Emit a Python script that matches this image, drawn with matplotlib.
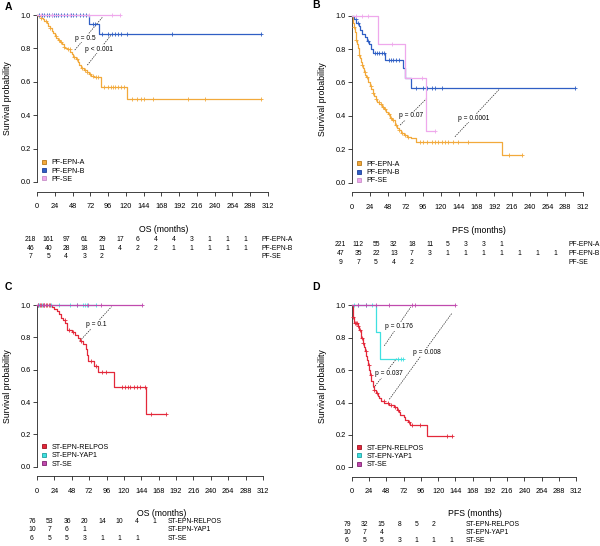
import numpy as np
import matplotlib
matplotlib.use("Agg")
import matplotlib.pyplot as plt
from matplotlib.lines import Line2D

plt.rcParams['font.family'] = ['Liberation Sans', 'DejaVu Sans']

# ---------------- data (months, survival) ----------------
x_ticks = list(range(0, 313, 24))

# Panel A - OS, posterior fossa
a_epna_t = [2, 5, 8, 10, 13, 15, 17, 20, 22, 24, 26, 29, 31, 34, 36, 38, 40, 45, 47, 49,
            52, 55, 57, 59, 63, 67, 70, 73, 77, 86, 122]
a_epna_s = [.995, .985, .975, .965, .95, .935, .92, .905, .89, .875, .862, .85, .838, .825,
            .81, .80, .795, .78, .765, .75, .735, .72, .70, .685, .672, .66, .648, .636, .627,
            .567, .495]
a_epna_c = [6, 12, 18, 25, 30, 33, 37, 42, 44, 50, 54, 61, 65, 68, 72, 75, 80, 83,
            90, 96, 100, 103, 106, 110, 114, 117, 128, 135, 141, 144, 157, 204, 227, 302]
a_epnb_t = [70, 84]
a_epnb_s = [.946, .886]
a_epnb_c = [3, 7, 10, 13, 16, 20, 23, 26, 28, 33, 37, 41, 46, 49, 53, 58, 62, 66, 75, 79,
            88, 96, 101, 105, 110, 114, 121, 182, 302]
a_se_t, a_se_s = [], []
a_se_c = [5, 20, 45, 70, 101, 112]

# Panel B - PFS, posterior fossa
b_epna_t = [1, 2, 3, 4, 5, 6, 7, 8, 9, 10, 11, 12, 13, 15, 16, 18, 19, 21, 22, 24, 26, 28,
            30, 32, 34, 37, 40, 43, 46, 48, 51, 54, 58, 61, 63, 66, 70, 74, 80, 87, 202]
b_epna_s = [.98, .955, .93, .905, .88, .855, .83, .805, .785, .765, .745, .725, .705, .685,
            .665, .645, .63, .615, .60, .58, .56, .54, .52, .50, .485, .47, .455, .44, .425,
            .41, .39, .375, .345, .33, .315, .30, .285, .275, .265, .246, .166]
b_epna_c = [3, 6, 10, 14, 17, 20, 25, 29, 33, 36, 39, 42, 45, 50, 53, 56, 60, 64, 68, 72, 76,
            92, 96, 101, 108, 112, 116, 122, 126, 130, 137, 143, 157, 212, 229]
b_epnb_t = [3, 6, 9, 11, 14, 17, 20, 23, 26, 29, 45, 69, 72, 80]
b_epnb_s = [.979, .957, .936, .915, .893, .872, .851, .83, .80, .776, .735, .685, .625, .565]
b_epnb_c = [5, 8, 22, 31, 34, 37, 40, 43, 50, 53, 56, 60, 64, 87, 96, 101, 108, 112, 121, 301]
b_se_t = [35, 71, 100]
b_se_s = [.833, .625, .3125]
b_se_c = [6, 13, 21, 54, 94, 112]

# Panel C - OS, supratentorial
c_rel_t = [21, 24, 27, 30, 33, 36, 39, 42, 48, 53, 56, 59, 64, 67, 69, 71, 78, 84, 106, 151]
c_rel_s = [.987, .973, .96, .946, .92, .905, .89, .845, .83, .815, .795, .775, .757, .73,
           .69, .655, .623, .585, .49, .327]
c_rel_c = [2, 4, 6, 8, 10, 12, 14, 16, 18, 38, 44, 50, 61, 75, 81, 90, 95,
           118, 121, 126, 129, 134, 138, 142, 149, 157, 178]
c_yap_t, c_yap_s = [], []
c_yap_c = [3, 7, 20, 30, 45, 55, 63, 66, 69, 82]
c_se_t, c_se_s = [], []
c_se_c = [2, 10, 55, 70, 88, 145]

# Panel D - PFS, supratentorial
d_rel_t = [1, 2, 3, 8, 10, 12, 13, 15, 17, 18, 20, 21, 22, 24, 25, 27, 29, 30, 33, 36, 38,
           41, 45, 52, 58, 62, 65, 67, 72, 74, 78, 81, 105]
d_rel_s = [.96, .93, .89, .875, .85, .83, .80, .77, .74, .72, .69, .66, .63, .60, .57, .53,
           .50, .48, .46, .44, .43, .41, .40, .385, .37, .355, .34, .325, .31, .295, .28,
           .26, .195]
d_rel_c = [2, 4, 5, 7, 9, 11, 14, 16, 19, 23, 26, 31, 35, 44, 50, 55, 60, 64, 80, 84, 95,
           133, 139]
d_yap_t = [34, 39]
d_yap_s = [.833, .667]
d_yap_c = [3, 9, 20, 28, 64, 68, 71]
d_se_t, d_se_s = [], []
d_se_c = [9, 20, 34, 51, 83, 88, 143]

# numbers at risk
a_risk = [[218, 161, 97, 61, 29, 17, 6, 4, 4, 3, 1, 1, 1],
          [46, 40, 28, 18, 11, 4, 2, 2, 1, 1, 1, 1, 1],
          [7, 5, 4, 3, 2]]
b_risk = [[221, 112, 55, 32, 18, 11, 5, 3, 3, 1],
          [47, 35, 22, 13, 7, 3, 1, 1, 1, 1, 1, 1, 1],
          [9, 7, 5, 4, 2]]
c_risk = [[76, 53, 36, 20, 14, 10, 4, 1],
          [10, 7, 6, 1],
          [6, 5, 5, 3, 1, 1, 1]]
d_risk = [[79, 32, 15, 8, 5, 2],
          [10, 7, 4],
          [6, 5, 5, 3, 1, 1, 1]]

pf_names = ['PF-EPN-A', 'PF-EPN-B', 'PF-SE']
st_names = ['ST-EPN-RELPOS', 'ST-EPN-YAP1', 'ST-SE']

# p-value annotations: (label, line start, line end, text position)
a_pvals = [('p = 0.5', (51, .79), (89, .99), (65, .862)),
           ('p < 0.001', (68, .70), (100, .88), (84, .796))]
b_pvals = [('p = 0.07', (65, .345), (101, .505), (80, .40)),
           ('p = 0.0001', (139, .275), (199, .56), (165, .387))]
c_pvals = [('p = 0.1', (59, .777), (103, .99), (81.5, .88))]
d_pvals = [('p = 0.176', (45, .75), (82, .99), (66, .87)),
           ('p = 0.008', (52, .42), (139, .95), (104, .71)),
           ('p = 0.037', (30, .49), (62, .67), (51, .58))]

pf_colors = ['#F2A93B', '#2F5FC4', '#EFA8EC']
pf_edges = ['#B87818', '#1E3F9A', '#C890C8']
st_colors = ['#E3283A', '#3FE0E0', '#C04AAE']
st_edges = ['#A01020', '#20A0A0', '#802070']


def km(ax, times, surv, cens, color):
    end = max(list(times) + list(cens))
    x = np.r_[0, times, end]
    y = np.r_[1, surv, surv[-1] if len(surv) else 1]
    ax.step(x, y, where='post', color=color, lw=0.9, clip_on=False, zorder=3)
    levels = np.r_[1, surv]
    cy = levels[np.searchsorted(times, cens, side='right')]
    ax.plot(cens, cy, '+', color=color, ms=2.6, mew=0.6, clip_on=False, zorder=3)


def setup(ax, xlabel):
    ax.set_xlim(0, 312)
    ax.set_ylim(0, 1)
    for s in ['top', 'right']:
        ax.spines[s].set_visible(False)
    ax.spines['bottom'].set_position(('outward', 7))
    for s in ['left', 'bottom']:
        ax.spines[s].set_linewidth(0.6)
        ax.spines[s].set_color('#222222')
    ax.set_xticks(x_ticks)
    ax.set_yticks([0, .2, .4, .6, .8, 1.0])
    ax.set_yticklabels(['0.0', '0.2', '0.4', '0.6', '0.8', '1.0'])
    ax.tick_params(axis='x', length=3, width=0.6, labelsize=5.3, pad=5, color='#222222')
    ax.tick_params(axis='y', length=3, width=0.6, labelsize=5.3, pad=1.5, color='#222222')
    ax.set_ylabel('Survival probability', fontsize=6.3)
    ax.yaxis.set_label_coords(-0.11, 0.5)
    ax.set_xlabel(xlabel, fontsize=6.3)
    ax.xaxis.set_label_coords(0.55, -0.26)
    ax.patch.set_visible(False)


def risk_table(ax, risk, names, x0, name_x, rows_y):
    tr = ax.get_xaxis_transform()
    for vals, name, ry in zip(risk, names, rows_y):
        for k, v in enumerate(vals):
            ax.text(x0 + 24.2 * k, ry, str(v), transform=tr, ha='center', va='center',
                    fontsize=4.9, clip_on=False)
        ax.text(name_x, ry, name, transform=tr, ha='left', va='center',
                fontsize=4.9, clip_on=False)


def pvals(ax, items):
    for label, p0, p1, pt in items:
        ax.plot([p0[0], p1[0]], [p0[1], p1[1]], color='#222222', lw=0.5,
                ls=(0, (2, 1.5)), zorder=2)
        ax.text(pt[0], pt[1], label, fontsize=4.8, ha='center', va='center', zorder=4,
                bbox=dict(boxstyle='square,pad=0.1', fc='white', ec='none'))


def legend(ax, names, colors, edges, anchor):
    handles = [Line2D([], [], ls='none', marker='s', ms=3.3, mfc=c, mec=e, mew=0.6)
               for c, e in zip(colors, edges)]
    ax.legend(handles, names, loc='lower left', bbox_to_anchor=anchor, frameon=False,
              fontsize=5.1, handlelength=0.8, handletextpad=0.6, labelspacing=0.18,
              borderpad=0, borderaxespad=0)


fig = plt.figure(figsize=(6, 5.46), dpi=100)
W, H = 600, 546
axA = fig.add_axes([37 / W, 1 - 182 / H, 231 / W, 167 / H])
axB = fig.add_axes([352 / W, 1 - 182.7 / H, 231 / W, 167 / H])
axC = fig.add_axes([37 / W, 1 - 466.7 / H, 226 / W, 161.7 / H])
axD = fig.add_axes([352 / W, 1 - 467.3 / H, 224 / W, 162 / H])

# A
setup(axA, 'OS (months)')
km(axA, a_epna_t, a_epna_s, a_epna_c, pf_colors[0])
km(axA, a_epnb_t, a_epnb_s, a_epnb_c, pf_colors[1])
km(axA, a_se_t, a_se_s, a_se_c, pf_colors[2])
pvals(axA, a_pvals)
legend(axA, pf_names, pf_colors, pf_edges, (0.02, -0.005))
risk_table(axA, a_risk, pf_names, -9, 303, [-0.347, -0.397, -0.447])

# B
setup(axB, 'PFS (months)')
km(axB, b_epna_t, b_epna_s, b_epna_c, pf_colors[0])
km(axB, b_epnb_t, b_epnb_s, b_epnb_c, pf_colors[1])
km(axB, b_se_t, b_se_s, b_se_c, pf_colors[2])
pvals(axB, b_pvals)
legend(axB, pf_names, pf_colors, pf_edges, (0.02, -0.01))
risk_table(axB, b_risk, pf_names, -16, 292, [-0.369, -0.423, -0.477])

# C
setup(axC, 'OS (months)')
km(axC, c_rel_t, c_rel_s, c_rel_c, st_colors[0])
km(axC, c_yap_t, c_yap_s, c_yap_c, st_colors[1])
km(axC, c_se_t, c_se_s, c_se_c, st_colors[2])
pvals(axC, c_pvals)
legend(axC, st_names, st_colors, st_edges, (0.02, -0.005))
risk_table(axC, c_risk, st_names, -7, 180, [-0.340, -0.391, -0.443])

# D
setup(axD, 'PFS (months)')
km(axD, d_rel_t, d_rel_s, d_rel_c, st_colors[0])
km(axD, d_yap_t, d_yap_s, d_yap_c, st_colors[1])
km(axD, d_se_t, d_se_s, d_se_c, st_colors[2])
pvals(axD, d_pvals)
legend(axD, st_names, st_colors, st_edges, (0.02, -0.005))
risk_table(axD, d_risk, st_names, -7, 158, [-0.35, -0.40, -0.45])

for letter, x, y in [('A', 5, 7), ('B', 312, 5), ('C', 5, 287), ('D', 312, 287)]:
    fig.text(x / W, 1 - y / H, letter, fontsize=7.5, fontweight='bold', ha='left', va='center')

fig.savefig('out.png', dpi=100)
